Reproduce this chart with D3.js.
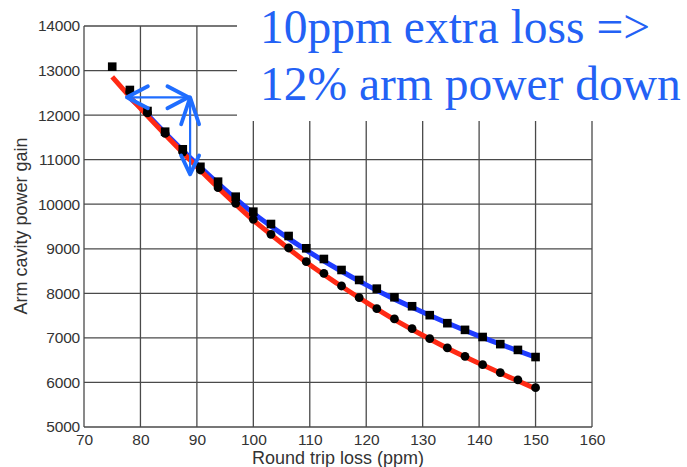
<!DOCTYPE html>
<html><head><meta charset="utf-8">
<script src="https://cdn.jsdelivr.net/npm/d3@7"></script>
<style>body{margin:0;background:#fff}svg{display:block}</style>
</head><body>
<svg id="c" width="687" height="467"></svg>
<script>
// ---- data ----
const lossPoints = [75,78.125,81.25,84.375,87.5,90.625,93.75,96.875,100,103.125,106.25,109.375,112.5,115.625,118.75,121.875,125,128.125,131.25,134.375,137.5,140.625,143.75,146.875,150];
const squareGain = [13087,12564,12092,11628,11233,10840,10506,10169,9833,9556,9287,9011,8771,8524,8300,8105,7912,7710,7510,7330,7180,7020,6860,6730,6570];
const circleLoss = lossPoints.slice(1);
const circleGain = [12520,12050,11590,11170,10768,10371,10021,9662,9325,9018,8710,8450,8165,7903,7656,7425,7207,6983,6774,6587,6399,6219,6056,5883];
const blueCurveLoss = [78,80,85,90,95,100,105,110,115,120,125,130,135,140,145,150];
const blueCurveGain = [12400,12170,11520,10900,10330,9800,9340,8920,8540,8190,7870,7580,7300,7040,6800,6565];
const redCurveLoss = [75,80,85,90,95,100,105,110,115,120,125,130,135,140,145,150];
const redCurveGain = [12860,12150,11480,10840,10220,9640,9130,8640,8210,7800,7410,7060,6730,6430,6140,5860];
const xTicks = [70,80,90,100,110,120,130,140,150,160];
const yTicks = [5000,6000,7000,8000,9000,10000,11000,12000,13000,14000];
const annotLines = ["10ppm extra loss =>", "12% arm power down"];
// annotation arrows in data units: [x1,y1,x2,y2]
const hArrow = [77.6, 12400, 88.5, 12400];
const vArrow = [88.8, 12400, 88.8, 10670];

const svg = d3.select("#c");
const x = d3.scaleLinear().domain([70,160]).range([84,592]);
const y = d3.scaleLinear().domain([5000,14000]).range([427,26]);
const gridColor = "#4a4a4a";

// grid
svg.append("g").selectAll("line").data(xTicks).join("line")
  .attr("x1", d=>x(d)).attr("x2", d=>x(d)).attr("y1", y(14000)).attr("y2", y(5000))
  .attr("stroke", gridColor).attr("stroke-width", 1.3);
svg.append("g").selectAll("line").data(yTicks).join("line")
  .attr("x1", x(70)).attr("x2", x(160)).attr("y1", d=>y(d)).attr("y2", d=>y(d))
  .attr("stroke", gridColor).attr("stroke-width", 1.3);

// axes labels
const xAxis = svg.append("g").attr("transform", `translate(0,${y(5000)})`)
  .call(d3.axisBottom(x).tickValues(xTicks).tickSize(0).tickPadding(7).tickFormat(d3.format("d")));
xAxis.select(".domain").remove();
xAxis.selectAll("text").attr("font-family","Liberation Sans, Arial, sans-serif").attr("font-size",15.5).attr("fill","#333");
const yAxis = svg.append("g").attr("transform", `translate(${x(70)},0)`)
  .call(d3.axisLeft(y).tickValues(yTicks).tickSize(0).tickPadding(4).tickFormat(d3.format("d")));
yAxis.select(".domain").remove();
yAxis.selectAll("text").attr("font-family","Liberation Sans, Arial, sans-serif").attr("font-size",15.5).attr("fill","#333").attr("letter-spacing",-0.2);

svg.append("text").attr("x", 338).attr("y", 464).attr("text-anchor","middle")
  .attr("font-family","Liberation Sans, Arial, sans-serif").attr("font-size",18).attr("fill","#333")
  .text("Round trip loss (ppm)");
svg.append("text").attr("transform","translate(27,226) rotate(-90)").attr("text-anchor","middle")
  .attr("font-family","Liberation Sans, Arial, sans-serif").attr("font-size",18).attr("fill","#333")
  .text("Arm cavity power gain");

// curves
const line = d3.line().x(d=>x(d[0])).y(d=>y(d[1])).curve(d3.curveCatmullRom);
svg.append("path").datum(blueCurveLoss.map((d,i)=>[d, blueCurveGain[i]]))
  .attr("d", line).attr("fill","none").attr("stroke","#1f3cff").attr("stroke-width",5);
svg.append("path").datum(redCurveLoss.map((d,i)=>[d, redCurveGain[i]]))
  .attr("d", line).attr("fill","none").attr("stroke","#ff2a14").attr("stroke-width",5);

// markers
svg.append("g").selectAll("circle").data(circleLoss.map((d,i)=>[d, circleGain[i]])).join("circle")
  .attr("cx", d=>x(d[0])).attr("cy", d=>y(d[1])).attr("r", 4.4).attr("fill","#000");
svg.append("g").selectAll("rect").data(lossPoints.map((d,i)=>[d, squareGain[i]])).join("rect")
  .attr("x", d=>x(d[0])-4.3).attr("y", d=>y(d[1])-4.3).attr("width", 8.6).attr("height", 8.6).attr("fill","#000");

// annotation box
svg.append("rect").attr("x", 237).attr("y", 0).attr("width", 450).attr("height", 121).attr("fill","#fff");
svg.append("g").selectAll("text").data(annotLines).join("text")
  .attr("x", 260).attr("y", (d,i)=> 43 + i*57)
  .attr("font-family","Liberation Serif, Times New Roman, serif").attr("font-size",47.5).attr("fill","#2361f5")
  .text(d=>d);

// arrows
const arrowColor = "#1f6dff";
function dblArrow(a, horiz){
  const x1=x(a[0]), y1=y(a[1]), x2=x(a[2]), y2=y(a[3]);
  const g = svg.append("g").attr("stroke", arrowColor).attr("fill","none").attr("stroke-linecap","round").attr("stroke-linejoin","round");
  g.append("line").attr("x1",x1).attr("y1",y1).attr("x2",x2).attr("y2",y2).attr("stroke-width",2.2);
  const L=21, W=11;
  if(horiz){
    g.append("polyline").attr("points",`${x1+L},${y1-W} ${x1},${y1} ${x1+L},${y1+W}`).attr("stroke-width",3.8);
    g.append("polyline").attr("points",`${x2-L},${y2-W} ${x2},${y2} ${x2-L},${y2+W}`).attr("stroke-width",3.8);
  } else {
    g.append("polyline").attr("points",`${x1-9},${y1+L+6} ${x1},${y1} ${x1+9},${y1+L+6}`).attr("stroke-width",3.8);
    g.append("polyline").attr("points",`${x2-9},${y2-L+2} ${x2},${y2} ${x2+9},${y2-L+2}`).attr("stroke-width",3.8);
  }
}
dblArrow(hArrow, true);
dblArrow(vArrow, false);
</script>
</body></html>
